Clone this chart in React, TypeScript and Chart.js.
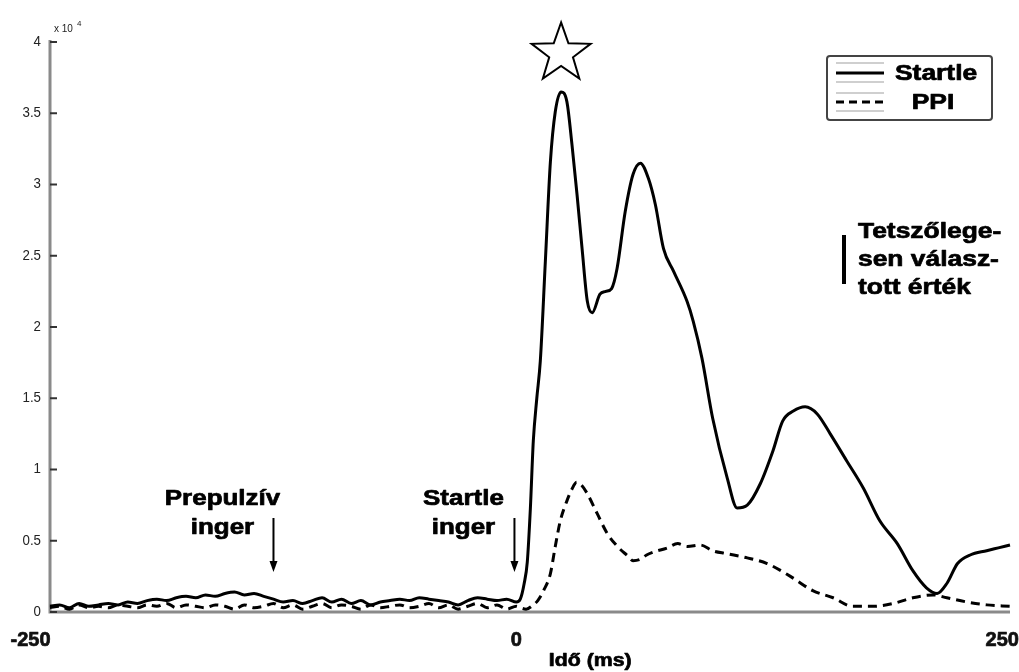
import React, { useEffect, useRef } from "react";
import { Chart, registerables } from "chart.js";

Chart.register(...registerables);

// ---- data (values x 10^4) ----
const STARTLE_T = [
  -240, -235, -230, -225, -220, -215, -210, -205, -200, -195, -190, -185, -180, -175, -170, -165, -160,
  -155, -150, -145, -140, -135, -130, -125, -120, -115, -110, -105, -100, -95, -90, -85, -80, -75, -70,
  -65, -60, -55, -50, -45, -40, -35, -30, -25, -20, -15, -10, -5, 0,
  2, 4, 5.6, 7.2, 8.7, 10.5, 12.3, 14.9, 17.5, 20, 23, 26, 28.6, 31.2, 33.8, 36.5, 39, 43, 46, 49, 51.8,
  56, 60, 63.8, 68, 71.5, 75.7, 80.9, 87.8, 91, 95.5, 101, 108.5, 113.6, 118.8, 125.5, 132, 137, 142.5,
  148.6, 154.8, 161.5, 170, 178.5, 187, 196, 204, 211, 216.5, 221.5, 227, 233.5, 242, 248, 254,
];
const STARTLE_V = [
  0.04, 0.05, 0.03, 0.06, 0.04, 0.05, 0.06, 0.05, 0.07, 0.06, 0.08, 0.09, 0.08, 0.1, 0.11, 0.1, 0.12,
  0.11, 0.13, 0.14, 0.12, 0.13, 0.11, 0.09, 0.07, 0.08, 0.06, 0.08, 0.1, 0.07, 0.09, 0.06, 0.08, 0.05, 0.07,
  0.08, 0.09, 0.08, 0.1, 0.09, 0.08, 0.07, 0.05, 0.08, 0.1, 0.09, 0.08, 0.09, 0.07,
  0.09, 0.2, 0.35, 0.73, 1.2, 1.5, 1.76, 2.46, 3.16, 3.51, 3.65, 3.58, 3.28, 2.93, 2.55, 2.18, 2.1, 2.23, 2.25, 2.27, 2.41,
  2.81, 3.07, 3.15, 3.04, 2.86, 2.55, 2.39, 2.18, 2.04, 1.78, 1.36, 0.94, 0.73, 0.75, 0.9, 1.13, 1.34, 1.41,
  1.44, 1.39, 1.25, 1.06, 0.87, 0.64, 0.48, 0.29, 0.17, 0.13, 0.2, 0.34, 0.4, 0.43, 0.45, 0.47,
];

const PPI_T = [
  -240, -235, -230, -225, -220, -215, -210, -205, -200, -195, -190, -185, -180, -175, -170, -165, -160,
  -155, -150, -145, -140, -135, -130, -125, -120, -115, -110, -105, -100, -95, -90, -85, -80, -75, -70,
  -65, -60, -55, -50, -45, -40, -35, -30, -25, -20, -15, -10, -5, 0,
  2, 5, 8.7, 11, 14, 17.5, 20, 22.6, 26, 28.5, 31, 33.5, 36.5, 41.6, 46.8, 52, 57.6, 60, 63.8, 67, 70.5,
  77.7, 83, 88, 94.6, 101, 108, 118.8, 129, 141, 152.5, 163, 173, 183.5, 194, 204, 214.5, 221.5, 232, 242, 254,
];
const PPI_V = [
  0.03, 0.04, 0.02, 0.05, 0.03, 0.04, 0.03, 0.05, 0.04, 0.03, 0.05, 0.04, 0.06, 0.03, 0.05, 0.04, 0.03,
  0.05, 0.04, 0.02, 0.05, 0.03, 0.04, 0.06, 0.03, 0.05, 0.02, 0.04, 0.06, 0.03, 0.05, 0.04, 0.02, 0.05, 0.03,
  0.04, 0.05, 0.03, 0.04, 0.06, 0.03, 0.05, 0.02, 0.04, 0.06, 0.03, 0.05, 0.02, 0.04,
  0.03, 0.02, 0.05, 0.08, 0.15, 0.27, 0.46, 0.64, 0.78, 0.86, 0.91, 0.89, 0.83, 0.69, 0.55, 0.46, 0.39, 0.36, 0.37, 0.4, 0.42,
  0.45, 0.48, 0.46, 0.47, 0.43, 0.41, 0.38, 0.34, 0.25, 0.15, 0.1, 0.04, 0.04, 0.06, 0.1, 0.12, 0.1, 0.07, 0.05, 0.04,
];

const Y_TICKS = [0, 0.5, 1, 1.5, 2, 2.5, 3, 3.5, 4];
const Y_TICK_LABELS = ["0", "0.5", "1", "1.5", "2", "2.5", "3", "3.5", "4"];
const X_TICKS = [-250, 0, 250];
const X_TICK_LABELS = ["-250", "0", "250"];
const X_MIN = -240;
const X_MAX = 254;
const Y_MIN = 0;
const Y_MAX = 4;

const SERIES_NAMES = ["Startle", "PPI"];
const ARROW_T = [-125, -1];
const ARROW_LABELS = [["Prepulzív", "inger"], ["Startle", "inger"]];
const NOTE_LINES = ["Tetszőlege-", "sen válasz-", "tott érték"];
const X_TITLE = "Idő (ms)";
const STAR_T = 23;
const STAR_V = 3.92;

const FONT = '"Liberation Sans", Arial, Helvetica, sans-serif';

function txt(
  ctx: CanvasRenderingContext2D,
  s: string,
  x: number,
  y: number,
  size: number,
  sx: number,
  align: CanvasTextAlign,
  bold = true,
  color = "#000"
) {
  ctx.save();
  ctx.font = `${bold ? "bold " : ""}${size}px ${FONT}`;
  ctx.fillStyle = color;
  ctx.textBaseline = "middle";
  ctx.textAlign = align;
  ctx.translate(x, y);
  ctx.scale(sx, 1);
  ctx.fillText(s, 0, 0);
  if (bold && size >= 18) {
    ctx.strokeStyle = color;
    ctx.lineWidth = 0.7;
    ctx.lineJoin = "round";
    ctx.strokeText(s, 0, 0);
  }
  ctx.restore();
}

const decor = {
  id: "decor",
  beforeDatasetsDraw(chart: any) {
    const ctx: CanvasRenderingContext2D = chart.ctx;
    const xs = chart.scales.x;
    const ys = chart.scales.y;
    const left = xs.left;
    const right = xs.right;
    const top = ys.top;
    const bottom = ys.bottom;
    ctx.save();
    // axes
    ctx.strokeStyle = "#8a8a8a";
    ctx.lineWidth = 3;
    ctx.beginPath();
    ctx.moveTo(left, top - 2);
    ctx.lineTo(left, bottom);
    ctx.lineTo(right, bottom);
    ctx.stroke();
    // y ticks
    ctx.strokeStyle = "#333";
    ctx.lineWidth = 2;
    Y_TICKS.forEach((v, i) => {
      const py = ys.getPixelForValue(v);
      ctx.beginPath();
      ctx.moveTo(left, py);
      ctx.lineTo(left + 7, py);
      ctx.stroke();
      txt(ctx, Y_TICK_LABELS[i], left - 9, py, 14, 0.95, "right", false, "#222");
    });
    // exponent
    txt(ctx, "x 10", left + 4, top - 13, 10, 1, "left", false, "#222");
    txt(ctx, "4", left + 27, top - 18, 8, 1, "left", false, "#222");
    // x tick labels
    X_TICKS.forEach((v, i) => {
      const px = xs.getPixelForValue(v);
      txt(ctx, X_TICK_LABELS[i], px, bottom + 28, 20, 1, "center", true, "#111");
    });
    // x title
    txt(ctx, X_TITLE, xs.getPixelForValue(38), bottom + 49, 19, 1.12, "center", true, "#000");
    ctx.restore();
  },
  afterDatasetsDraw(chart: any) {
    const ctx: CanvasRenderingContext2D = chart.ctx;
    const xs = chart.scales.x;
    const ys = chart.scales.y;
    ctx.save();
    // star
    const cx = xs.getPixelForValue(STAR_T);
    const cy = ys.getPixelForValue(STAR_V);
    const R = 31;
    const r = 12.5;
    ctx.beginPath();
    for (let k = 0; k < 10; k++) {
      const ang = -Math.PI / 2 + (k * Math.PI) / 5;
      const rad = k % 2 === 0 ? R : r;
      const px = cx + rad * Math.cos(ang);
      const py = cy + rad * Math.sin(ang);
      if (k === 0) ctx.moveTo(px, py);
      else ctx.lineTo(px, py);
    }
    ctx.closePath();
    ctx.fillStyle = "#fff";
    ctx.fill();
    ctx.strokeStyle = "#000";
    ctx.lineWidth = 2;
    ctx.stroke();

    // arrows + labels
    ARROW_T.forEach((t, i) => {
      const ax = xs.getPixelForValue(t);
      ctx.strokeStyle = "#000";
      ctx.lineWidth = 2;
      ctx.beginPath();
      ctx.moveTo(ax, 518);
      ctx.lineTo(ax, 563);
      ctx.stroke();
      ctx.beginPath();
      ctx.moveTo(ax - 4, 561);
      ctx.lineTo(ax + 4, 561);
      ctx.lineTo(ax, 572);
      ctx.closePath();
      ctx.fillStyle = "#000";
      ctx.fill();
      const lbl = ARROW_LABELS[i];
      txt(ctx, lbl[0], ax - 51, 499, 22, 1.18, "center");
      txt(ctx, lbl[1], ax - 51, 528, 22, 1.18, "center");
    });

    // arbitrary value note
    ctx.fillStyle = "#000";
    ctx.fillRect(842, 235, 4, 49);
    NOTE_LINES.forEach((s, i) => {
      txt(ctx, s, 858, 232 + i * 28, 22, 1.2, "left");
    });

    // legend
    ctx.fillStyle = "#fff";
    ctx.strokeStyle = "#444";
    ctx.lineWidth = 2;
    ctx.beginPath();
    (ctx as any).roundRect(827, 56, 165, 64, 3);
    ctx.fill();
    ctx.stroke();
    ctx.strokeStyle = "#cfcfcf";
    ctx.lineWidth = 2;
    [63, 82, 93, 111].forEach((yy) => {
      ctx.beginPath();
      ctx.moveTo(836, yy);
      ctx.lineTo(884, yy);
      ctx.stroke();
    });
    ctx.strokeStyle = "#000";
    ctx.lineWidth = 3;
    ctx.beginPath();
    ctx.moveTo(836, 73);
    ctx.lineTo(884, 73);
    ctx.stroke();
    ctx.setLineDash([8, 5]);
    ctx.beginPath();
    ctx.moveTo(836, 102);
    ctx.lineTo(884, 102);
    ctx.stroke();
    ctx.setLineDash([]);
    txt(ctx, SERIES_NAMES[0], 895, 74, 22, 1.2, "left");
    txt(ctx, SERIES_NAMES[1], 933, 103, 22, 1.2, "center");
    ctx.restore();
  },
};

export default function App() {
  const ref = useRef<HTMLCanvasElement | null>(null);
  useEffect(() => {
    document.body.style.margin = "0";
    const canvas = ref.current;
    if (!canvas) return;
    const chart = new Chart(canvas, {
      type: "line",
      data: {
        datasets: [
          {
            label: SERIES_NAMES[0],
            data: STARTLE_T.map((t, i) => ({ x: t, y: STARTLE_V[i] })),
            borderColor: "#000",
            borderWidth: 3,
            pointRadius: 0,
            cubicInterpolationMode: "monotone",
            fill: false,
            clip: false as any,
          },
          {
            label: SERIES_NAMES[1],
            data: PPI_T.map((t, i) => ({ x: t, y: PPI_V[i] })),
            borderColor: "#000",
            borderWidth: 3,
            borderDash: [9, 6],
            pointRadius: 0,
            cubicInterpolationMode: "monotone",
            fill: false,
            clip: false as any,
          },
        ],
      },
      options: {
        responsive: false,
        animation: false,
        devicePixelRatio: 1,
        layout: { padding: { left: 50, right: 9, top: 42, bottom: 60 } },
        plugins: { legend: { display: false }, tooltip: { enabled: false } },
        scales: {
          x: { type: "linear", min: X_MIN, max: X_MAX, display: false },
          y: { type: "linear", min: Y_MIN, max: Y_MAX, display: false },
        },
      },
      plugins: [decor],
    });
    return () => chart.destroy();
  }, []);
  return (
    <div style={{ position: "fixed", left: 0, top: 0, width: 1019, height: 672, background: "#fff" }}>
      <canvas ref={ref} width={1019} height={672} />
    </div>
  );
}
